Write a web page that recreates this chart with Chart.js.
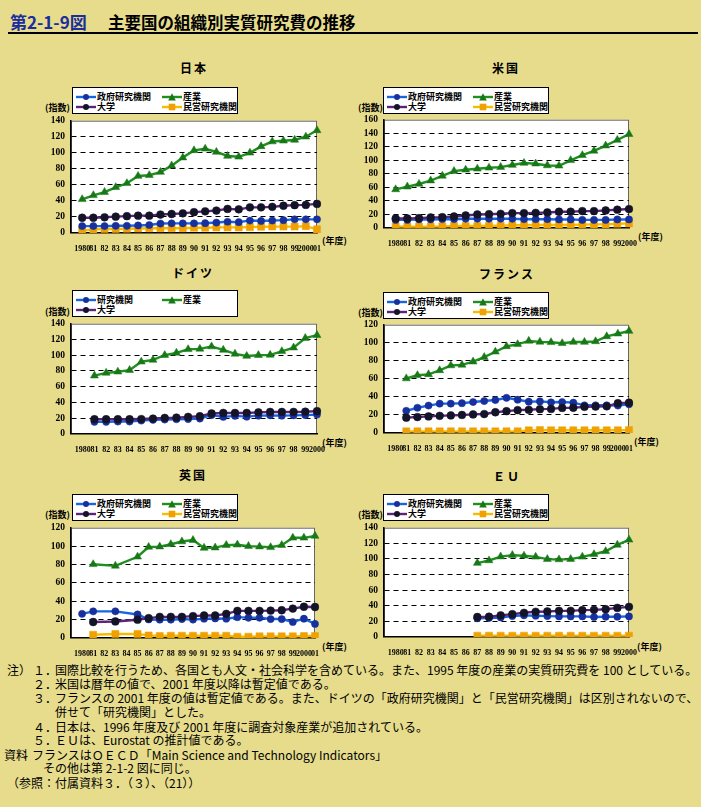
<!DOCTYPE html>
<html>
<head>
<meta charset="utf-8">
<script src="https://cdn.jsdelivr.net/npm/chart.js@4.4.0/dist/chart.umd.min.js"></script>
<style>
  html,body{margin:0;padding:0;}
  body{background:#E6DC8C;width:701px;height:807px;overflow:hidden;position:relative;font-family:"Noto Sans CJK JP","Noto Sans",sans-serif;color:#000;}
  .abs{position:absolute;white-space:nowrap;}
  .legend{position:absolute;background:#fff;border:1px solid #000;box-sizing:border-box;}
  .legend .lt{position:absolute;font-size:9px;font-weight:bold;line-height:10px;white-space:nowrap;}
  .legend svg{position:absolute;}
  .ptitle{position:absolute;font-size:12px;font-weight:bold;line-height:14px;transform:translateX(-50%);white-space:nowrap;letter-spacing:2px;}
  .unit{position:absolute;font-size:9px;font-weight:bold;line-height:10px;white-space:nowrap;}
  .note{position:absolute;font-size:12px;line-height:14px;white-space:nowrap;}
  canvas{position:absolute;}
</style>
</head>
<body>
<div class="abs" style="left:10px;top:12px;font-size:17px;line-height:20px;font-weight:bold;color:#1a2e9c;">第2-1-9図</div>
<div class="abs" style="left:108px;top:12px;font-size:16.5px;line-height:20px;font-weight:bold;">主要国の組織別実質研究費の推移</div>
<div class="abs" style="left:8px;top:32px;width:690px;height:1.5px;background:#000;"></div>

<div id="notes"></div>

<script>
// ---------- tick labels ----------
const ticks23 = ['', '1980','81','82','83','84','85','86','87','88','89','90','91','92','93','94','95','96','97','98','99','2000','01'];
const ticks22 = ['', '1980','81','82','83','84','85','86','87','88','89','90','91','92','93','94','95','96','97','98','99','2000'];

// ---------- series names ----------
const nameGov = '政府研究機関';
const nameInd = '産業';
const nameUniv = '大学';
const namePriv = '民営研究機関';
const nameInst = '研究機関';

// ---------- Japan 1980-2001 ----------
const jpGov  = [8.6,8.6,8.6,9,9,9.4,10,11.8,12,12,12,12.2,13,14,13.5,15.5,15,15.5,16,17,17,17];
const jpInd  = [42,47,51,57,62,71,72,76,84,94,103,105,101,96,95,100,108,114,115,116,120,128];
const jpUniv = [19,19,19.6,20.4,21,21.6,21.6,23,23.7,24.5,26,27,28,30,29.5,32,32,32.6,34,34.7,35,36.3];
const jpPriv = [3,4.5,5,5,5.3,5.7,6,6,6,6,6.5,6.5,7,7,7,7.3,7.7,8,8,8,8.5,4.5];

// ---------- USA 1980-2000 ----------
const usGov  = [12,12,12.6,12.6,13,13,13.6,13.6,13.6,13.6,13.6,13,13,13,12.6,12.6,12,12,12,12.6,12.6];
const usInd  = [57,61,65,70,77,84,86,87.5,89,90,93,96,95,92.4,92,100,107.5,114,121.6,130,138.6];
const usUniv = [14,14,14.6,15.5,16,17,18.5,20,20.4,21,22,22,22.4,23,24,24,25,25,26,27,28];
const usPriv = [2.4,2,2,2,2.4,3,3,3,3.4,3.4,4,4,4.4,4.4,4.4,4.4,5,5.4,5.4,6.3,6.8];

// ---------- Germany 1980-2000 ----------
const deInst = [null,15.4,15.4,15.8,15.8,17,18,18.3,18.7,19,19.6,24,21.7,23,22,23.3,23.7,23.3,23.7,24,24.6];
const deInd  = [null,74,77.5,79,81,91.7,94,100,103,107.5,108,111,106.7,101.7,99,100,100.4,105,109.6,121.7,125.4];
const deUniv = [null,18.7,18.7,18.7,18.7,19,19.6,20.4,20.8,21.7,22.5,26,26.7,26.7,26.7,27.5,28,28,28,28.3,29];

// ---------- France 1980-2001 ----------
const frGov  = [null,24.6,28,30.4,32.5,32.5,33,34.3,35.4,36.5,39,36.9,34.7,35,34,34.3,33.6,30.7,30.7,30.7,30.4,31.8];
const frInd  = [null,60.4,64,65,69.4,74.8,75.5,79,84,90,96,98.3,102,101,100.5,99.4,100.8,100.8,101.5,107,110,113];
const frUniv = [null,17,17.7,18.4,19,19.5,20,20.6,21,23,24.2,25.3,25.7,26.4,26.7,27.8,28,29,29.3,29.6,33,33.6];
const frPriv = [null,1.8,1.8,1.8,1.8,1.8,1.8,1.8,1.8,1.8,1.8,1.8,2.9,3.2,3,3,3,3,3,3,3,3.2];

// ---------- UK 1980-2001 ----------
const ukGov  = [26.3,29,null,29,null,25.6,20.2,19.9,19.9,20.6,20,21,21.3,21,22.7,22,22,20.6,20.6,17.4,21,15.3];
const ukInd  = [null,80.2,null,78.5,null,88.4,99,99.4,102,105,106.5,98,98.3,101,101.5,100,99.4,98.7,101,109,109,111];
const ukUniv = [null,17.4,null,18,null,19.9,21.6,23,23,23,23.8,24.5,24.5,26.3,29.5,29.5,29.5,29.8,30.2,32,34,33.7];
const ukPriv = [null,3.5,null,4.3,null,4.3,2.8,2.1,2.5,2.5,2.5,2.5,2.5,2.5,1.4,1.4,1.8,1.8,1.8,1.8,2.1,2.1];

// ---------- EU 1980-2000 ----------
const euGov  = [null,null,null,null,null,null,null,23.9,24.3,25,26.8,27.7,27.2,26.8,26.4,26.4,26.4,25.6,26,26,26.4];
const euInd  = [null,null,null,null,null,null,null,94.7,98,103,104.8,104,102.7,99.7,99.3,99.7,102.7,106,109.8,118,124.5];
const euUniv = [null,null,null,null,null,null,null,25.6,26,27.7,29.3,31,32.3,32.7,33.5,33.5,34.4,34.8,35.6,37.3,38.6];
const euPriv = [null,null,null,null,null,null,null,1.7,1.7,1.7,1.7,1.7,1.7,1.7,1.7,1.7,1.7,1.7,1.7,1.7,1.7];

// ---------- styles ----------
const ST = {
  gov:  {line:'#1766e0', pt:'#17309e', shape:'circle',   r:3.6, z:2},
  ind:  {line:'#1f8f1f', pt:'#187818', shape:'triangle', r:4.6, z:4},
  univ: {line:'#5b2478', pt:'#141428', shape:'circle',   r:3.9, z:3},
  priv: {line:'#f6bd00', pt:'#f0a000', shape:'rect',     r:5,   z:1}
};

const panels = [
  {title:'日本', tx:194, ty:68, lx:72, ly:87, ux:45, uy:108, nx:322, ny:241,
   cx:0, pl:71, pr:317, pt:119, pb:233, max:140, labels:ticks23,
   series:[[nameGov,jpGov,'gov'],[nameInd,jpInd,'ind'],[nameUniv,jpUniv,'univ'],[namePriv,jpPriv,'priv']]},
  {title:'米国', tx:506, ty:68, lx:383, ly:87, ux:358, uy:108, nx:638, ny:237,
   cx:350, pl:384, pr:629, pt:118, pb:228, max:160, labels:ticks22,
   series:[[nameGov,usGov,'gov'],[nameInd,usInd,'ind'],[nameUniv,usUniv,'univ'],[namePriv,usPriv,'priv']]},
  {title:'ドイツ', tx:193, ty:273, lx:72, ly:290, ux:45, uy:312, nx:322, ny:443,
   cx:0, pl:71, pr:317, pt:322, pb:434, max:140, labels:ticks22,
   series:[[nameInst,deInst,'gov'],[nameInd,deInd,'ind'],[nameUniv,deUniv,'univ']]},
  {title:'フランス', tx:507, ty:274, lx:383, ly:292, ux:358, uy:313, nx:634, ny:442,
   cx:350, pl:384, pr:629, pt:323, pb:433, max:120, labels:ticks23,
   series:[[nameGov,frGov,'gov'],[nameInd,frInd,'ind'],[nameUniv,frUniv,'univ'],[namePriv,frPriv,'priv']]},
  {title:'英国', tx:193, ty:475, lx:72, ly:494, ux:45, uy:515, nx:322, ny:647,
   cx:0, pl:71, pr:315, pt:526, pb:638, max:120, labels:ticks23,
   series:[[nameGov,ukGov,'gov'],[nameInd,ukInd,'ind'],[nameUniv,ukUniv,'univ'],[namePriv,ukPriv,'priv']]},
  {title:'ＥＵ', tx:507, ty:476, lx:383, ly:494, ux:358, uy:515, nx:637, ny:647,
   cx:350, pl:384, pr:629, pt:526, pb:637, max:140, labels:ticks22,
   series:[[nameGov,euGov,'gov'],[nameInd,euInd,'ind'],[nameUniv,euUniv,'univ'],[namePriv,euPriv,'priv']]}
];

function markerSVG(st, left, top){
  let m = '';
  if (st.shape === 'circle') m = `<circle cx="10" cy="4" r="3" fill="${st.pt}"/>`;
  else if (st.shape === 'triangle') m = `<polygon points="10,0.3 13.8,7.5 6.2,7.5" fill="${st.pt}"/>`;
  else m = `<rect x="6.7" y="0.7" width="6.6" height="6.6" fill="${st.pt}"/>`;
  return `<svg width="20" height="8" style="left:${left}px;top:${top}px;"><line x1="0" y1="4" x2="20" y2="4" stroke="${st.line}" stroke-width="2.4"/>${m}</svg>`;
}

const bgPlugin = {
  id:'bg',
  beforeDraw(chart){
    const {ctx, chartArea:a} = chart;
    ctx.save();
    ctx.fillStyle = '#fff';
    ctx.fillRect(a.left, a.top, a.right - a.left, a.bottom - a.top);
    ctx.strokeStyle = '#666';
    ctx.lineWidth = 1;
    ctx.strokeRect(a.left + 0.5, a.top + 0.5, a.right - a.left - 1, a.bottom - a.top - 1);
    ctx.restore();
  }
};

panels.forEach(p => {
  const t = document.createElement('div');
  t.className = 'ptitle';
  t.style.left = p.tx + 'px'; t.style.top = (p.ty - 7) + 'px';
  t.textContent = p.title;
  document.body.appendChild(t);
  const u = document.createElement('div');
  u.className = 'unit'; u.style.left = p.ux + 'px'; u.style.top = (p.uy - 5) + 'px';
  u.textContent = '(指数)';
  document.body.appendChild(u);
  const n = document.createElement('div');
  n.className = 'unit'; n.style.left = p.nx + 'px'; n.style.top = (p.ny - 5) + 'px';
  n.textContent = '(年度)';
  document.body.appendChild(n);
  const lg = document.createElement('div');
  lg.className = 'legend';
  lg.style.cssText = `left:${p.lx}px;top:${p.ly}px;width:166px;height:27px;`;
  let html = '';
  p.series.forEach((s, i) => {
    const col = i % 2, row = Math.floor(i / 2);
    const st = ST[s[2]];
    const mx = col === 0 ? 3 : 89;
    const tx = col === 0 ? 24 : 110;
    const cy = row === 0 ? 9 : 19;
    html += markerSVG(st, mx, cy - 4);
    html += `<div class="lt" style="left:${tx}px;top:${cy - 5}px;">${s[0]}</div>`;
  });
  lg.innerHTML = html;
  document.body.appendChild(lg);

  const cw = p.cx === 0 ? 345 : 351;
  const cy0 = p.pt - 10;
  const ch = p.pb + 20 - cy0;
  const c = document.createElement('canvas');
  c.width = cw; c.height = ch;
  c.style.left = p.cx + 'px'; c.style.top = cy0 + 'px';
  document.body.appendChild(c);
  const yW = p.pl - p.cx;
  const padR = p.cx + cw - p.pr;
  const max = p.max;

  const datasets = p.series.map(s => {
    const st = ST[s[2]];
    return {
      label: s[0],
      data: [null, ...s[1]],
      borderColor: st.line,
      backgroundColor: st.pt,
      pointBackgroundColor: st.pt,
      pointBorderColor: st.pt,
      pointBorderWidth: 0.5,
      pointStyle: st.shape,
      pointRadius: st.r,
      borderWidth: 2.4,
      tension: 0,
      spanGaps: true,
      order: 10 - st.z
    };
  });

  new Chart(c, {
    type: 'line',
    data: {labels: p.labels, datasets},
    options: {
      responsive: false,
      animation: false,
      devicePixelRatio: 1,
      layout: {padding: {left: 0, top: 10, right: padR, bottom: 0}},
      plugins: {legend: {display: false}, tooltip: {enabled: false}},
      scales: {
        x: {
          type: 'category', offset: false,
          afterFit: s => { s.height = 20; },
          grid: {display: false},
          border: {display: true, color: '#000', width: 1.5},
          ticks: {autoSkip: false, maxRotation: 0, minRotation: 0, padding: 3,
                  font: {family: 'Liberation Serif', size: 8, weight: 'bold'}, color: '#000'}
        },
        y: {
          min: 0, max: max,
          afterFit: s => { s.width = yW; },
          ticks: {stepSize: 20, autoSkip: false, maxTicksLimit: 20, padding: 6,
                  font: {family: 'Liberation Serif', size: 9.5, weight: 'bold'}, color: '#000'},
          grid: {
            color: ctx => (ctx.tick && (ctx.tick.value === 0 || ctx.tick.value === max)) ? 'rgba(0,0,0,0)' : '#000',
            lineWidth: 1.1, drawTicks: false
          },
          border: {display: true, color: '#000', width: 1.5, dash: [5, 4]}
        }
      }
    },
    plugins: [bgPlugin]
  });
});

// ---------- notes ----------
const noteLines = [
  [670, [[7,'注）'],[33,'１．'],[55,'国際比較を行うため、各国とも人文・社会科学を含めている。また、1995 年度の産業の実質研究費を 100 としている。']]],
  [684, [[33,'２．'],[55,'米国は暦年の値で、2001 年度以降は暫定値である。']]],
  [698, [[33,'３．'],[55,'フランスの 2001 年度の値は暫定値である。また、ドイツの「政府研究機関」と「民営研究機関」は区別されないので、']]],
  [712, [[55,'併せて「研究機関」とした。']]],
  [727, [[33,'４．'],[55,'日本は、1996 年度及び 2001 年度に調査対象産業が追加されている。']]],
  [740, [[33,'５．'],[55,'ＥＵは、Eurostat の推計値である。']]],
  [755, [[4,'資料'],[19,'：'],[32,'フランスはＯＥＣＤ「Main Science and Technology Indicators」']]],
  [768, [[43,'その他は第 2-1-2 図に同じ。']]],
  [783, [[7,'（参照：付属資料３．（３）、（21））']]]
];
const notes = document.getElementById('notes');
noteLines.forEach(([y, parts]) => {
  parts.forEach(([x, txt]) => {
    const d = document.createElement('div');
    d.className = 'note';
    d.style.left = x + 'px'; d.style.top = (y - 7) + 'px';
    d.textContent = txt;
    notes.appendChild(d);
  });
});
</script>
</body>
</html>
